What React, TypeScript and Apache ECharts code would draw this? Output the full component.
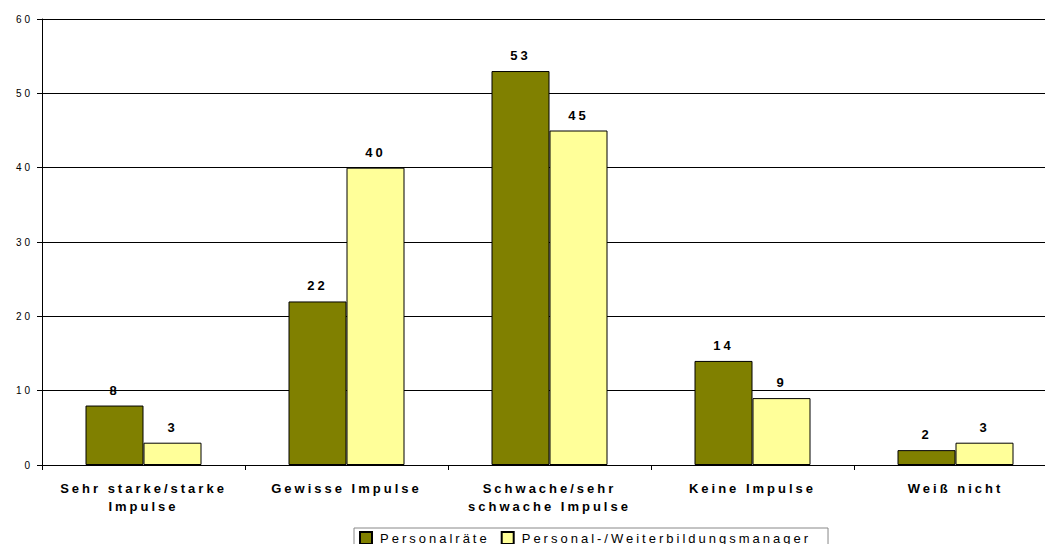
import React, { useEffect, useRef } from "react";
import * as echarts from "echarts";

const categories = [
  "Sehr starke/starke\nImpulse",
  "Gewisse Impulse",
  "Schwache/sehr\nschwache Impulse",
  "Keine Impulse",
  "Weiß nicht",
];
const personalraete = [8, 22, 53, 14, 2];
const managerValues = [3, 40, 45, 9, 3];
const seriesNames = ["Personalräte", "Personal-/Weiterbildungsmanager"];

const FONT = "'Liberation Sans', Arial, sans-serif";

export default function App() {
  const ref = useRef<HTMLDivElement>(null);

  useEffect(() => {
    if (!ref.current) return;
    const chart = echarts.init(ref.current, undefined, { renderer: "svg" });
    const label = {
      show: true,
      position: "top",
      distance: 9,
      color: "#000",
      fontFamily: FONT,
      fontWeight: "bold",
      fontSize: 13,
    };
    chart.setOption({
      animation: false,
      backgroundColor: "#fff",
      textStyle: { fontFamily: FONT },
      grid: { left: 42, top: 19, width: 1015, height: 446, containLabel: false },
      legend: {
        left: 354,
        top: 528,
        // extra right padding makes room for the letter-spaced text
        padding: [3, 110, 3, 5],
        borderColor: "#888",
        borderWidth: 1,
        itemWidth: 12,
        itemHeight: 12,
        itemGap: 47,
        icon: "rect",
        textStyle: { fontFamily: FONT, fontSize: 13, color: "#000", padding: [0, 0, 0, 3] },
        data: seriesNames,
      },
      xAxis: {
        type: "category",
        data: categories,
        axisLine: { lineStyle: { color: "#000", width: 1 } },
        axisTick: { show: true, length: 5, lineStyle: { color: "#000" } },
        axisLabel: {
          interval: 0,
          margin: 14,
          color: "#000",
          fontFamily: FONT,
          fontWeight: "bold",
          fontSize: 13,
          lineHeight: 18,
        },
      },
      yAxis: {
        type: "value",
        min: 0,
        max: 60,
        interval: 10,
        axisLine: { show: true, lineStyle: { color: "#000", width: 1 } },
        axisTick: { show: true, length: 5, lineStyle: { color: "#000" } },
        axisLabel: { margin: 9, color: "#000", fontFamily: FONT, fontSize: 10 },
        splitLine: { show: true, lineStyle: { color: "#000", width: 1 } },
      },
      series: [
        {
          name: seriesNames[0],
          type: "bar",
          data: personalraete,
          barWidth: 58,
          barGap: "0%",
          itemStyle: { color: "#808000", borderColor: "#000", borderWidth: 1 },
          label,
        },
        {
          name: seriesNames[1],
          type: "bar",
          data: managerValues,
          barWidth: 58,
          barGap: "0%",
          itemStyle: { color: "#FFFF99", borderColor: "#000", borderWidth: 1 },
          label,
        },
      ],
    });
    return () => chart.dispose();
  }, []);

  // The plot runs past the right edge of the page, so the chart is wider
  // than its clipping frame.
  return (
    <div
      style={{
        position: "fixed",
        left: 0,
        top: 0,
        width: 1045,
        height: 544,
        overflow: "hidden",
        background: "#fff",
      }}
    >
      <div
        ref={ref}
        style={{ width: 1070, height: 544, letterSpacing: "3px" }}
      />
    </div>
  );
}
